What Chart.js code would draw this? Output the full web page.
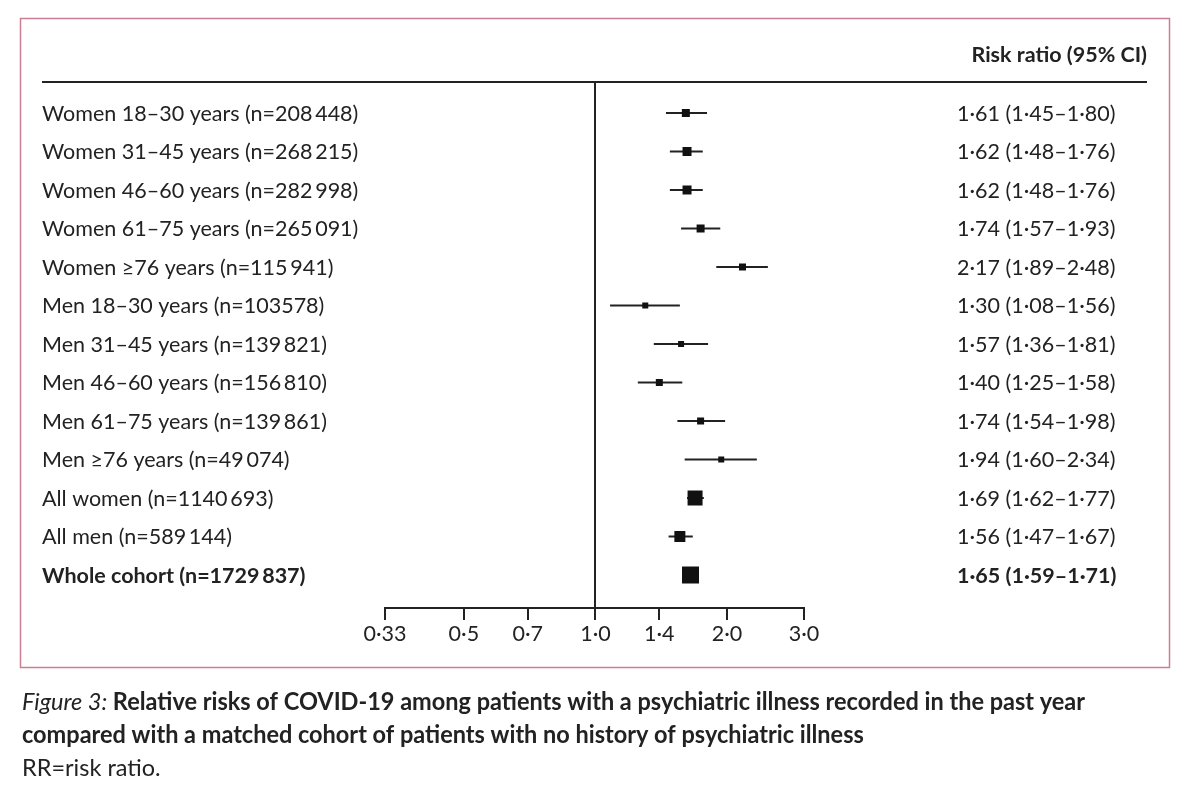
<!DOCTYPE html>
<html>
<head>
<meta charset="utf-8">
<script src="https://cdn.jsdelivr.net/npm/chart.js@4/dist/chart.umd.min.js"></script>
<style>
  body { margin: 0; background: #fff; }
  canvas { display: block; }
</style>
</head>
<body>
<canvas id="forest" width="1195" height="803"></canvas>
<script>
// rows of the forest plot, top to bottom
const groups = [
  'Women 18–30 years (n=208\u2009448)',
  'Women 31–45 years (n=268\u2009215)',
  'Women 46–60 years (n=282\u2009998)',
  'Women 61–75 years (n=265\u2009091)',
  'Women ≥76 years (n=115\u2009941)',
  'Men 18–30 years (n=103578)',
  'Men 31–45 years (n=139\u2009821)',
  'Men 46–60 years (n=156\u2009810)',
  'Men 61–75 years (n=139\u2009861)',
  'Men ≥76 years (n=49\u2009074)',
  'All women (n=1140\u2009693)',
  'All men (n=589\u2009144)',
  'Whole cohort (n=1729\u2009837)'
];
const riskRatio = [1.61, 1.62, 1.62, 1.74, 2.17, 1.30, 1.57, 1.40, 1.74, 1.94, 1.69, 1.56, 1.65];
const ciLow     = [1.45, 1.48, 1.48, 1.57, 1.89, 1.08, 1.36, 1.25, 1.54, 1.60, 1.62, 1.47, 1.59];
const ciHigh    = [1.80, 1.76, 1.76, 1.93, 2.48, 1.56, 1.81, 1.58, 1.98, 2.34, 1.77, 1.67, 1.71];
const xTicks = [0.33, 0.5, 0.7, 1.0, 1.4, 2.0, 3.0];

// styling
const boxSide = [8, 9, 9, 8, 7, 6, 6, 7, 7, 6, 15, 11, 17];
const ink = '#222';
const FONT = 'Lato, "Open Sans", sans-serif';

const dot = v => v.toFixed(2).replace('.', '·');
const tickText = v => (v === 0.33 ? '0.33' : v.toFixed(1)).replace('.', '·');

const ciPlugin = {
  id: 'ciLines',
  beforeDatasetsDraw(chart) {
    const {ctx, scales: {x, y}, chartArea} = chart;
    ctx.save();
    ctx.strokeStyle = ink;
    // reference line at 1
    ctx.lineWidth = 2;
    const x1 = Math.round(x.getPixelForValue(1));
    ctx.beginPath();
    ctx.moveTo(x1, chartArea.top);
    ctx.lineTo(x1, chartArea.bottom);
    ctx.stroke();
    ctx.lineWidth = 2;
    groups.forEach((g, i) => {
      const py = y.getPixelForValue(i);
      ctx.beginPath();
      ctx.moveTo(x.getPixelForValue(ciLow[i]), py);
      ctx.lineTo(x.getPixelForValue(ciHigh[i]), py);
      ctx.stroke();
    });
    ctx.restore();
  }
};

const textPlugin = {
  id: 'tableText',
  afterDraw(chart) {
    const {ctx, scales: {y}, chartArea} = chart;
    ctx.save();
    // frame
    ctx.strokeStyle = '#c98095';
    ctx.lineWidth = 1.5;
    ctx.strokeRect(20.5, 18.5, 1149, 649);
    // header rule
    ctx.strokeStyle = ink;
    ctx.lineWidth = 2;
    ctx.beginPath();
    ctx.moveTo(42, chartArea.top);
    ctx.lineTo(1147, chartArea.top);
    ctx.stroke();

    ctx.fillStyle = ink;
    ctx.textBaseline = 'middle';
    ctx.font = 'bold 21.5px ' + FONT;
    ctx.textAlign = 'right';
    ctx.fillText('Risk ratio (95% CI)', 1147, 55);

    ctx.textAlign = 'left';
    groups.forEach((g, i) => {
      const py = y.getPixelForValue(i) + 1;
      const last = i === groups.length - 1;
      ctx.font = (last ? 'bold ' : '') + '21.5px ' + FONT;
      ctx.fillText(g, 42, py);
      ctx.fillText(dot(riskRatio[i]) + ' (' + dot(ciLow[i]) + '–' + dot(ciHigh[i]) + ')', 957, py);
    });

    // caption, condensed
    ctx.textBaseline = 'alphabetic';
    const fig = 'Figure 3: ';
    const l1 = 'Relative risks of COVID-19 among patients with a psychiatric illness recorded in the past year';
    const l2 = 'compared with a matched cohort of patients with no history of psychiatric illness';
    const cs = '24px ';
    ctx.font = 'italic ' + cs + FONT;
    const wf = ctx.measureText(fig).width;
    ctx.font = 'bold ' + cs + FONT;
    const w1 = ctx.measureText(l1).width;
    const k = (1085 - 22) / (wf + w1);
    ctx.translate(22, 0);
    ctx.scale(k, 1);
    ctx.font = 'italic ' + cs + FONT;
    ctx.fillText(fig, 0, 710);
    ctx.font = 'bold ' + cs + FONT;
    ctx.fillText(l1, wf, 710);
    ctx.fillText(l2, 0, 743);
    ctx.font = cs + FONT;
    ctx.fillText('RR=risk ratio.', 0, 776);
    ctx.restore();
  }
};

new Chart(document.getElementById('forest'), {
  type: 'scatter',
  data: {
    datasets: [{
      data: riskRatio.map((v, i) => ({x: v, y: i})),
      pointStyle: 'rect',
      pointRadius: boxSide.map(s => s / Math.SQRT2),
      pointHoverRadius: boxSide.map(s => s / Math.SQRT2),
      backgroundColor: '#111',
      borderWidth: 0
    }]
  },
  options: {
    responsive: false,
    animation: false,
    devicePixelRatio: 1,
    layout: {padding: {left: 385, right: 391, top: 82, bottom: 155}},
    plugins: {legend: {display: false}, tooltip: {enabled: false}},
    scales: {
      x: {
        type: 'logarithmic',
        bounds: 'data',
        min: 0.33,
        max: 3.0,
        afterBuildTicks: s => { s.ticks = xTicks.map(v => ({value: v})); },
        afterFit: s => { s.height = 40; },
        grid: {drawOnChartArea: false, drawTicks: true, tickLength: 12, color: ink, lineWidth: 2},
        border: {display: true, color: ink, width: 2},
        ticks: {
          autoSkip: false,
          maxRotation: 0,
          padding: 1,
          color: ink,
          font: {family: FONT, size: 21.5},
          callback: v => tickText(v)
        }
      },
      y: {
        type: 'linear',
        reverse: true,
        min: -0.805,
        max: 12.857,
        display: false
      }
    }
  },
  plugins: [ciPlugin, textPlugin]
});
</script>
</body>
</html>
